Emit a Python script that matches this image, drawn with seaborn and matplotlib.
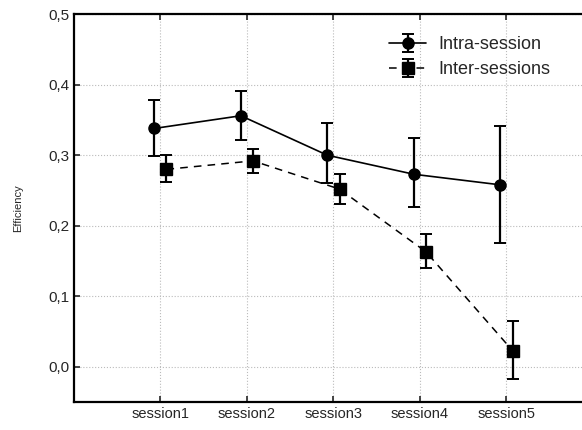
import numpy as np
import matplotlib
matplotlib.use("Agg")
import matplotlib.pyplot as plt
import seaborn as sns
from matplotlib.ticker import FuncFormatter

# Data.
sessions = ["session1", "session2", "session3", "session4", "session5"]
intraMean = [0.338, 0.356, 0.300, 0.273, 0.258]
intraLow = [0.299, 0.322, 0.260, 0.226, 0.175]
intraHigh = [0.378, 0.391, 0.346, 0.325, 0.341]
interMean = [0.280, 0.292, 0.252, 0.163, 0.023]
interLow = [0.262, 0.275, 0.231, 0.140, -0.018]
interHigh = [0.301, 0.309, 0.273, 0.189, 0.065]

sns.set_theme(style="ticks")
plt.rcParams["font.family"] = ["Liberation Sans", "DejaVu Sans"]

fig = plt.figure(figsize=(5.82, 4.30), dpi=100)
ax = fig.add_axes([0.127, 0.065, 0.877, 0.902])

pos = np.arange(1, len(sessions) + 1)
shift = 0.07

intraErr = [np.subtract(intraMean, intraLow), np.subtract(intraHigh, intraMean)]
interErr = [np.subtract(interMean, interLow), np.subtract(interHigh, interMean)]

ax.errorbar(pos - shift, intraMean, yerr=intraErr, color="black", marker="o",
            markersize=8, linestyle="-", linewidth=1.2, elinewidth=1.6,
            capsize=4, capthick=1.4, label="Intra-session")
ax.errorbar(pos + shift, interMean, yerr=interErr, color="black", marker="s",
            markersize=8, linestyle=(0, (5, 4)), linewidth=1.1, elinewidth=1.6,
            capsize=4, capthick=1.4, label="Inter-sessions")

ax.set_xlim(0, 5.9)
ax.set_ylim(-0.05, 0.5)
ax.set_xticks(pos)
ax.set_xticklabels(sessions, fontsize=10.5)
ax.set_yticks([0.0, 0.1, 0.2, 0.3, 0.4, 0.5])
ax.yaxis.set_major_formatter(FuncFormatter(lambda v, p: f"{v:.1f}".replace(".", ",")))
ax.tick_params(axis="y", labelsize=11)
ax.tick_params(direction="in", top=True, length=4, width=1.2)
ax.set_ylabel("Efficiency", fontsize=8, labelpad=18)
ax.grid(True, linestyle=":", color="#bbbbbb", linewidth=0.8)
for s in ax.spines.values():
    s.set_linewidth(1.6)
    s.set_color("black")

ax.legend(loc="upper right", bbox_to_anchor=(0.965, 0.985), frameon=False,
          fontsize=13, handlelength=2.0, handletextpad=0.7, labelspacing=0.45)

fig.savefig("out.png", dpi=100)
